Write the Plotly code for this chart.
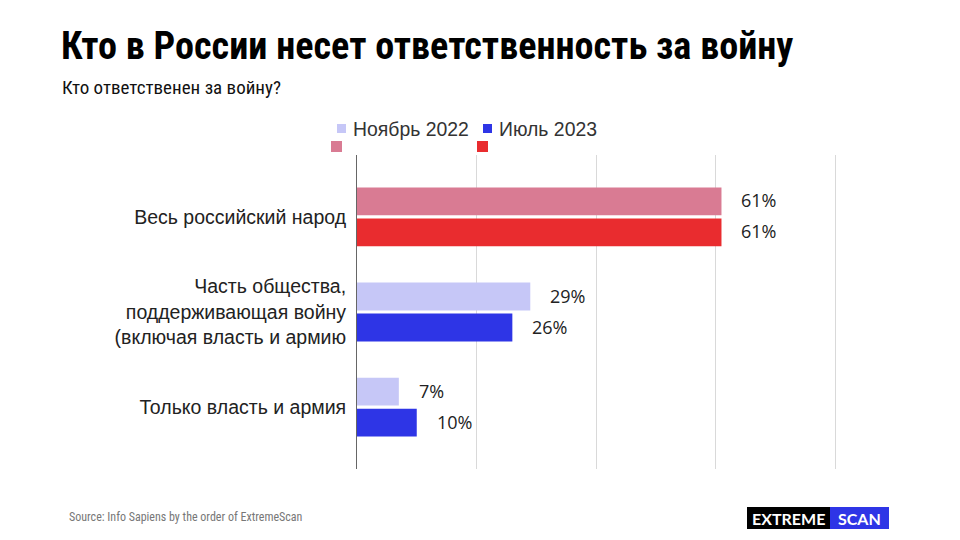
import plotly.graph_objects as go

categories = ["Весь российский народ",
              "Часть общества,<br>поддерживающая войну<br>(включая власть и армию",
              "Только власть и армия"]
series_names = ["Ноябрь 2022", "Июль 2023"]
nov_2022 = [61, 29, 7]
jul_2023 = [61, 26, 10]
nov_colors = ["#d97b93", "#c6c7f7", "#c6c7f7"]
jul_colors = ["#e92c2f", "#2e35e6", "#2e35e6"]
x_ticks = [0, 20, 40, 60, 80]

LBL = "Liberation Sans, Arial, sans-serif"
PCT = "Open Sans, Noto Sans, sans-serif"
NARROW = "Liberation Sans Narrow, Arial Narrow, Roboto Condensed, Liberation Sans, Arial, sans-serif"

# plot area in pixels (slightly wider than the 80 gridline so that it is drawn)
PX0, PX1, PY0, PY1 = 357, 837, 155, 469
X_MAX = 80 * (PX1 - PX0) / (835 - PX0)


def px(x):
    return (x - PX0) / (PX1 - PX0)


def py(y):
    return (PY1 - y) / (PY1 - PY0)


fig = go.Figure()
fig.add_trace(go.Bar(y=categories, x=nov_2022, orientation="h", name=series_names[0],
                     marker=dict(color=nov_colors, line=dict(width=0)), showlegend=False,
                     hoverinfo="x"))
fig.add_trace(go.Bar(y=categories, x=jul_2023, orientation="h", name=series_names[1],
                     marker=dict(color=jul_colors, line=dict(width=0)), showlegend=False,
                     hoverinfo="x"))

annotations = []
for cat, v in zip(categories, nov_2022):
    annotations.append(dict(x=v, y=cat, xref="x", yref="y", text=f"{v}%", showarrow=False,
                            xanchor="left", yanchor="middle", xshift=18, yshift=16.5,
                            font=dict(family=PCT, size=18, color="#222")))
for cat, v in zip(categories, jul_2023):
    annotations.append(dict(x=v, y=cat, xref="x", yref="y", text=f"{v}%", showarrow=False,
                            xanchor="left", yanchor="middle", xshift=18, yshift=-14.5,
                            font=dict(family=PCT, size=18, color="#222")))


def txt(x, y, text, family, size, color, anchor="left"):
    return dict(x=px(x), y=py(y), xref="paper", yref="paper", text=text, showarrow=False,
                xanchor=anchor, yanchor="middle", font=dict(family=family, size=size, color=color))


annotations += [
    txt(59, 46, "<b>Кто в России несет ответственность за войну</b>", NARROW, 38.2, "#000"),
    txt(60, 88, "Кто ответственен за войну?", NARROW, 19, "#111"),
    txt(67, 517, "Source: Info Sapiens by the order of ExtremeScan", NARROW, 12, "#777"),
    txt(351, 129, series_names[0], LBL, 19.4, "#333"),
    txt(497, 129, series_names[1], LBL, 19.4, "#333"),
    txt(788, 518, "<b>EXTREME</b>", "Lato, Roboto, sans-serif", 16, "#fff", "center"),
    txt(859.5, 518, "<b>SCAN</b>", "Lato, Roboto, sans-serif", 16, "#fff", "center"),
]


def rect(x0, y0, x1, y1, color):
    return dict(type="rect", xref="paper", yref="paper", x0=px(x0), x1=px(x1),
                y0=py(y1), y1=py(y0), fillcolor=color, line=dict(width=0))


shapes = [
    rect(337, 124, 346, 133, nov_colors[1]),
    rect(483, 124, 492, 133, jul_colors[1]),
    rect(331, 141, 342, 152, nov_colors[0]),
    rect(477, 141, 488, 152, jul_colors[0]),
    rect(747, 507, 830, 529, "#000"),
    rect(830, 507, 889, 529, "#2e35e6"),
]

fig.update_layout(
    width=960, height=540,
    margin=dict(l=PX0, r=960 - PX1, t=PY0, b=540 - PY1),
    paper_bgcolor="#fff", plot_bgcolor="#fff",
    barmode="group", bargap=0.35, bargroupgap=0.1,
    showlegend=False,
    annotations=annotations, shapes=shapes,
    xaxis=dict(range=[0, X_MAX], tickvals=x_ticks, showticklabels=False, showgrid=True,
               gridcolor="#d9d9d9", gridwidth=1, zeroline=False, showline=False, fixedrange=True),
    yaxis=dict(type="category", range=[2.65, -0.65], showgrid=False, showline=True,
               linecolor="#666", linewidth=1, ticks="", ticklabelstandoff=6,
               tickfont=dict(family=LBL, size=19.5, color="#222"), fixedrange=True),
)

fig.write_html("out.html")
